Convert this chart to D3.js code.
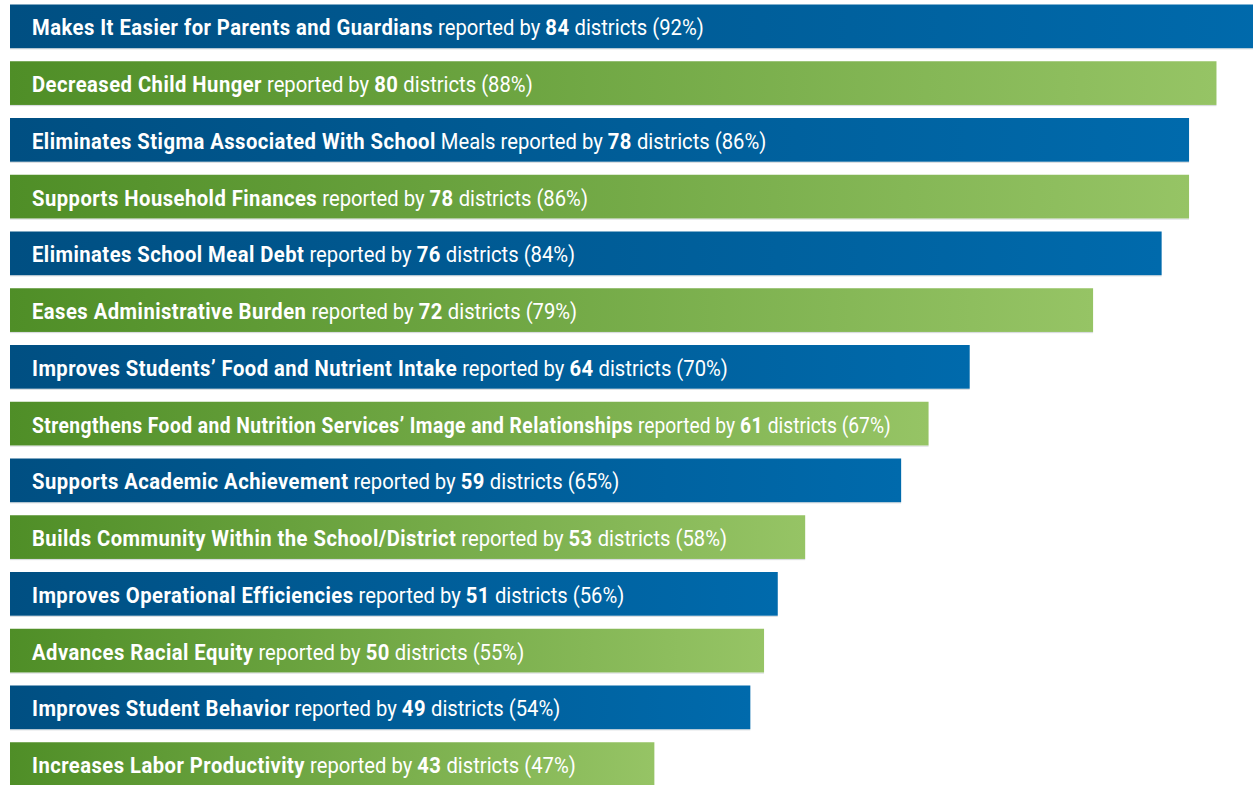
<!DOCTYPE html>
<html lang="en">
<head>
<meta charset="utf-8">
<title>Reported benefits</title>
<script src="https://d3js.org/d3.v7.min.js"></script>
<style>
    body { margin: 0; background: #ffffff; }
    text { font-family: Roboto, "Open Sans", sans-serif; }
</style>
</head>
<body>
<svg width="1253" height="785" id="mainsvg"></svg>
<script>
    // data
    const boldLabels = [
        "Makes It Easier for Parents and Guardians",
        "Decreased Child Hunger",
        "Eliminates Stigma Associated With School",
        "Supports Household Finances",
        "Eliminates School Meal Debt",
        "Eases Administrative Burden",
        "Improves Students\u2019 Food and Nutrient Intake",
        "Strengthens Food and Nutrition Services\u2019 Image and Relationships",
        "Supports Academic Achievement",
        "Builds Community Within the School/District",
        "Improves Operational Efficiencies",
        "Advances Racial Equity",
        "Improves Student Behavior",
        "Increases Labor Productivity"
    ];
    const plainLabels = ["", "", " Meals", "", "", "", "", "", "", "", "", "", "", ""];
    const districts = [84, 80, 78, 78, 76, 72, 64, 61, 59, 53, 51, 50, 49, 43];
    const percents = [92, 88, 86, 86, 84, 79, 70, 67, 65, 58, 56, 55, 54, 47];

    const svg = d3.select('#mainsvg');
    const margin = { top: 4.5, left: 10 };
    const step = 56.75;
    const pad = 0.23;

    const xScale = d3.scaleLinear()
        .domain([0, 100])
        .range([0, 1371]);

    const yScale = d3.scaleBand()
        .domain(d3.range(boldLabels.length))
        .range([0, step * (boldLabels.length - pad)])
        .paddingInner(pad)
        .paddingOuter(0);

    const defs = svg.append('defs');
    const grads = {
        blue: ['#004f82', '#006aac'],
        green: ['#4f8e27', '#96c465']
    };
    Object.keys(grads).forEach(k => {
        const lg = defs.append('linearGradient').attr('id', 'grad-' + k)
            .attr('x1', '0%').attr('x2', '100%').attr('y1', '0%').attr('y2', '0%');
        lg.append('stop').attr('offset', '0%').attr('stop-color', grads[k][0]);
        lg.append('stop').attr('offset', '100%').attr('stop-color', grads[k][1]);
    });

    const g = svg.append('g')
        .attr('transform', `translate(${margin.left}, ${margin.top})`);

    const rows = g.selectAll('.row')
        .data(d3.range(boldLabels.length))
        .enter().append('g')
        .attr('class', 'row')
        .attr('transform', i => `translate(0, ${yScale(i)})`);

    // faint shadow under each bar
    rows.append('rect')
        .attr('x', 0)
        .attr('y', yScale.bandwidth())
        .attr('width', i => xScale(percents[i]))
        .attr('height', 1.2)
        .attr('fill', '#d9dcdf');

    rows.append('rect')
        .attr('x', 0)
        .attr('y', 0)
        .attr('width', i => xScale(percents[i]))
        .attr('height', yScale.bandwidth())
        .attr('fill', i => i % 2 === 0 ? 'url(#grad-blue)' : 'url(#grad-green)');

    const sx = 0.92;
    const textX = 22;
    const textY = yScale.bandwidth() / 2 + 9;
    const label = rows.append('text')
        .attr('fill', '#ffffff')
        .attr('font-size', '22px');

    label.append('tspan')
        .attr('font-weight', 700)
        .attr('letter-spacing', 0.5)
        .text(i => boldLabels[i]);
    label.append('tspan')
        .attr('font-weight', 400)
        .text(i => plainLabels[i] + ' reported by ');
    label.append('tspan')
        .attr('font-weight', 700)
        .attr('letter-spacing', 0.5)
        .text(i => districts[i]);
    label.append('tspan')
        .attr('font-weight', 400)
        .text(i => ` districts (${percents[i]}%)`);

    // squeeze a label a bit more when it would run past its bar
    label.attr('transform', function (i) {
        const w = this.getComputedTextLength();
        const room = xScale(percents[i]) - textX - 37;
        const s = Math.min(sx, room / w);
        return `translate(${textX}, ${textY}) scale(${s}, 1)`;
    });
</script>
</body>
</html>
